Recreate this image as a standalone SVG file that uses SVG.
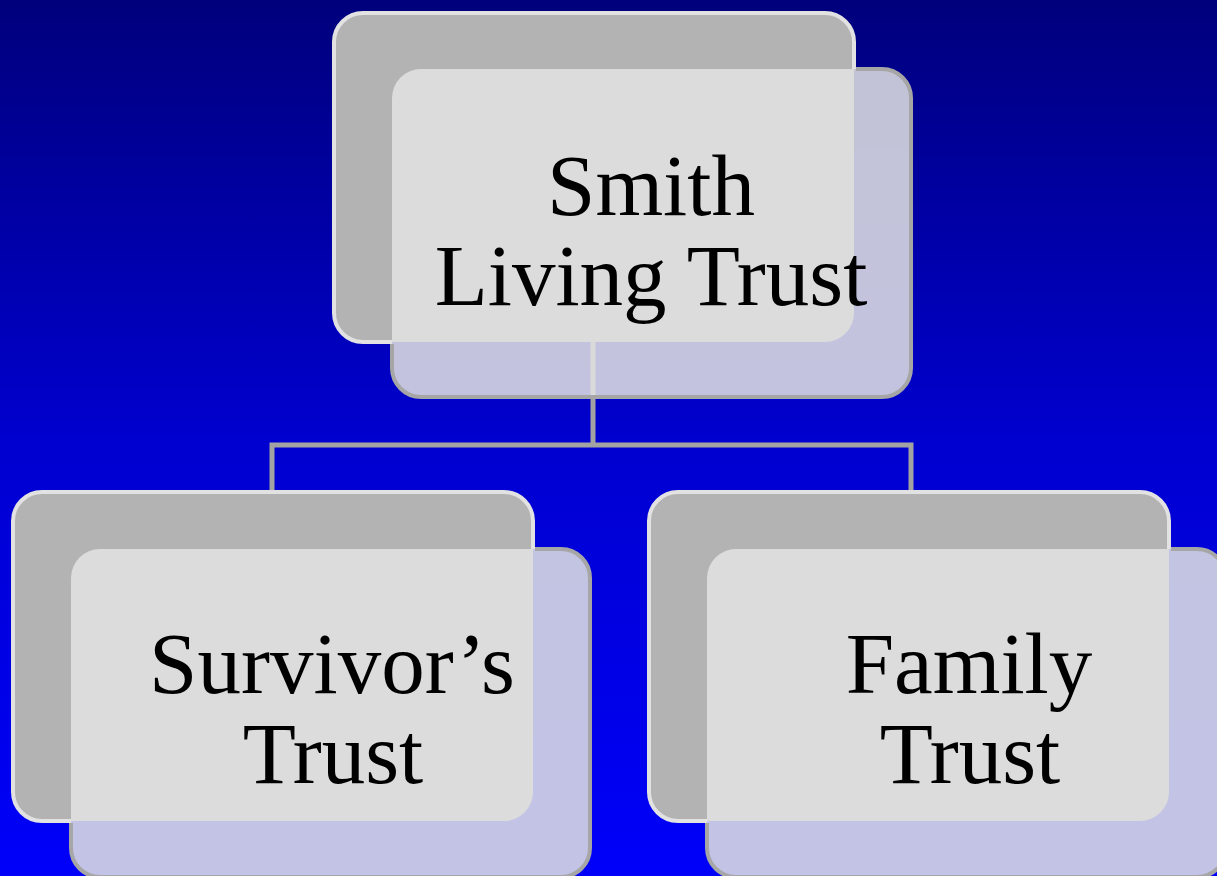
<svg xmlns="http://www.w3.org/2000/svg" width="1217" height="876" viewBox="0 0 1217 876">
  <defs>
    <linearGradient id="bg" x1="0" y1="0" x2="0" y2="1">
      <stop offset="0" stop-color="#00007c"/>
      <stop offset="0.5" stop-color="#0000cf"/>
      <stop offset="1" stop-color="#0000fa"/>
    </linearGradient>
    <mask id="m-top" maskUnits="userSpaceOnUse" x="0" y="0" width="1217" height="876">
      <rect x="0" y="0" width="1217" height="876" fill="#fff"/>
      <rect x="332" y="11" width="524" height="333" rx="31" fill="#000"/>
    </mask>
    <mask id="m-left" maskUnits="userSpaceOnUse" x="0" y="0" width="1217" height="876">
      <rect x="0" y="0" width="1217" height="876" fill="#fff"/>
      <rect x="11" y="490" width="524" height="333" rx="31" fill="#000"/>
    </mask>
    <mask id="m-right" maskUnits="userSpaceOnUse" x="0" y="0" width="1217" height="876">
      <rect x="0" y="0" width="1217" height="876" fill="#fff"/>
      <rect x="647" y="490" width="524" height="333" rx="31" fill="#000"/>
    </mask>
    <mask id="b-top" maskUnits="userSpaceOnUse" x="0" y="0" width="1217" height="876">
      <rect x="0" y="0" width="1217" height="876" fill="#fff"/>
      <rect x="392" y="69" width="519" height="328" rx="29" fill="#000"/>
    </mask>
    <mask id="b-left" maskUnits="userSpaceOnUse" x="0" y="0" width="1217" height="876">
      <rect x="0" y="0" width="1217" height="876" fill="#fff"/>
      <rect x="71" y="549" width="519" height="328" rx="29" fill="#000"/>
    </mask>
    <mask id="b-right" maskUnits="userSpaceOnUse" x="0" y="0" width="1217" height="876">
      <rect x="0" y="0" width="1217" height="876" fill="#fff"/>
      <rect x="707" y="549" width="519" height="328" rx="29" fill="#000"/>
    </mask>
  </defs>
  <style>
    .back { fill: #b3b3b3; stroke: none; }
    .backline { fill: none; stroke: #e2e2e2; stroke-width: 4; }
    .front { fill: #e3e3e3; fill-opacity: 0.86; stroke: none; }
    .frontline { fill: none; stroke: #a6a6a6; stroke-width: 4; }
    .conn { fill: none; stroke: #a2a2a2; stroke-width: 5; stroke-linejoin: miter; }
    .label { font-family: "Liberation Serif", "Times New Roman", serif; font-size: 87px; fill: #000; text-anchor: middle; }
  </style>
  <rect x="0" y="0" width="1217" height="876" fill="url(#bg)"/>

  <g id="connectors">
    <path class="conn" d="M593,342 V445"/>
    <path class="conn" d="M272,492 V445 H911 V492"/>
  </g>

  <g id="node-smith">
    <rect class="back" x="334" y="13" width="520" height="329" rx="29"/>
    <rect class="backline" x="334" y="13" width="520" height="329" rx="29" mask="url(#b-top)"/>
    <rect class="front" x="392" y="69" width="519" height="328" rx="29"/>
    <rect class="frontline" x="392" y="69" width="519" height="328" rx="29" mask="url(#m-top)"/>
    <text class="label" x="651" y="215">Smith</text>
    <text class="label" x="651" y="305">Living Trust</text>
  </g>

  <g id="node-survivor">
    <rect class="back" x="13" y="492" width="520" height="329" rx="29"/>
    <rect class="backline" x="13" y="492" width="520" height="329" rx="29" mask="url(#b-left)"/>
    <rect class="front" x="71" y="549" width="519" height="328" rx="29"/>
    <rect class="frontline" x="71" y="549" width="519" height="328" rx="29" mask="url(#m-left)"/>
    <text class="label" x="332" y="693">Survivor’s</text>
    <text class="label" x="333" y="783">Trust</text>
  </g>

  <g id="node-family">
    <rect class="back" x="649" y="492" width="520" height="329" rx="29"/>
    <rect class="backline" x="649" y="492" width="520" height="329" rx="29" mask="url(#b-right)"/>
    <rect class="front" x="707" y="549" width="519" height="328" rx="29"/>
    <rect class="frontline" x="707" y="549" width="519" height="328" rx="29" mask="url(#m-right)"/>
    <text class="label" x="969" y="693">Family</text>
    <text class="label" x="970" y="783">Trust</text>
  </g>
</svg>
